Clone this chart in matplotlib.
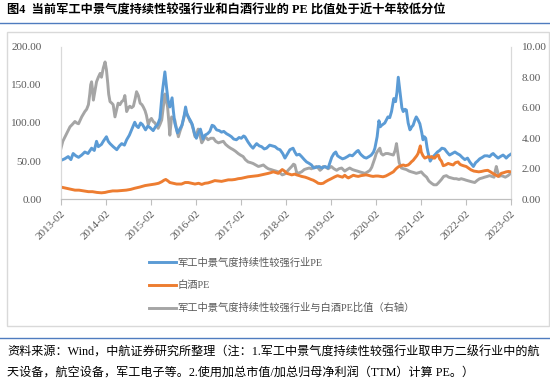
import matplotlib
matplotlib.use("Agg")
import matplotlib.pyplot as plt
from matplotlib.patches import Rectangle
from matplotlib.lines import Line2D

plt.rcParams['font.family'] = ['Liberation Serif', 'Noto Sans CJK SC', 'DejaVu Sans']

TITLE = "图4  当前军工中景气度持续性较强行业和白酒行业的 PE 比值处于近十年较低分位"
NOTE_1 = "资料来源：Wind，中航证券研究所整理（注：1.军工中景气度持续性较强行业取申万二级行业中的航"
NOTE_2 = "天设备，航空设备，军工电子等。2.使用加总市值/加总归母净利润（TTM）计算 PE。）"
LABEL_MIL = "军工中景气度持续性较强行业PE"
LABEL_LIQ = "白酒PE"
LABEL_RATIO = "军工中景气度持续性较强行业与白酒PE比值（右轴）"

# x ticks: one per February, 2013-02 .. 2023-02
TICK_LABELS = [f"{y}-02" for y in range(2013, 2024)]

# time = years since Feb 2013
mil_t = [0.00, 0.08, 0.16, 0.22, 0.27, 0.33, 0.39, 0.46, 0.53, 0.60, 0.68, 0.74, 0.79, 0.83, 0.90, 0.94,
         1.01, 1.05, 1.09, 1.16, 1.24, 1.30, 1.35, 1.41, 1.46, 1.52, 1.57, 1.64, 1.68, 1.72, 1.77, 1.81,
         1.88, 1.93, 1.98, 2.05, 2.10, 2.15, 2.20, 2.25, 2.31, 2.35, 2.38, 2.42, 2.47, 2.50, 2.53, 2.59,
         2.64, 2.69, 2.74, 2.77, 2.80, 2.83, 2.88, 2.92, 2.97, 3.01, 3.06, 3.10, 3.16, 3.20, 3.26, 3.31,
         3.36, 3.40, 3.46, 3.52, 3.57, 3.62, 3.68, 3.74, 3.79, 3.84, 3.90, 3.96, 4.01, 4.06, 4.09, 4.16,
         4.22, 4.27, 4.32, 4.35, 4.41, 4.46, 4.52, 4.57, 4.64, 4.70, 4.76, 4.82, 4.87, 4.93, 4.98, 5.04,
         5.09, 5.16, 5.20, 5.24, 5.30, 5.35, 5.41, 5.46, 5.52, 5.57, 5.62, 5.68, 5.74, 5.80, 5.87, 5.94,
         5.98, 6.02, 6.07, 6.11, 6.15, 6.20, 6.26, 6.31, 6.37, 6.42, 6.48, 6.53, 6.58, 6.61, 6.65, 6.68,
         6.74, 6.79, 6.85, 6.90, 6.95, 6.98, 7.03, 7.07, 7.10, 7.13, 7.20, 7.27, 7.31, 7.35, 7.40, 7.44,
         7.47, 7.50, 7.53, 7.55, 7.58, 7.61, 7.65, 7.68, 7.72, 7.76, 7.80, 7.83, 7.87, 7.90, 7.94, 7.98,
         8.02, 8.05, 8.08, 8.11, 8.14, 8.16, 8.21, 8.26, 8.31, 8.37, 8.42, 8.47, 8.53, 8.58, 8.64, 8.70,
         8.76, 8.81, 8.87, 8.92, 8.98, 9.04, 9.09, 9.13, 9.17, 9.22, 9.26, 9.31, 9.37, 9.42, 9.48, 9.53,
         9.58, 9.61, 9.66, 9.72, 9.77, 9.83, 9.87, 9.90, 9.95, 10.00]
mil_pe = [51, 53, 56, 52, 60, 57, 55, 58, 62, 60, 67, 64, 76, 69, 72, 76,
          82, 76, 73, 69, 65, 70, 73, 71, 78, 84, 91, 101, 96, 94, 100, 98,
          91, 96, 94, 90, 95, 98, 106, 139, 167, 145, 130, 121, 133, 115, 100, 87,
          92, 97, 110, 121, 112, 108, 103, 98, 86, 80, 88, 92, 79, 84, 86, 89,
          97, 96, 91, 90, 88, 89, 86, 84, 82, 79, 78, 81, 80, 83, 82, 75,
          70, 67, 71, 73, 70, 69, 66, 67, 71, 70, 69, 66, 65, 60, 54, 60,
          65, 67, 62, 58, 59, 56, 52, 49, 47, 45, 41, 42, 43, 41, 43, 41,
          48, 55, 60, 62, 57, 55, 53, 54, 56, 58, 57, 60, 63, 64, 60, 58,
          55, 54, 56, 58, 62, 67, 82, 103, 95, 97, 100, 108, 107, 115, 132, 128,
          140, 160, 145, 134, 120, 115, 118, 117, 100, 91, 95, 97, 104, 108, 104, 99,
          88, 78, 82, 80, 68, 62, 50, 55, 58, 62, 64, 67, 66, 62, 58, 60,
          62, 60, 58, 55, 52, 54, 49, 46, 43, 48, 50, 53, 55, 57, 57, 56,
          59, 60, 57, 54, 56, 58, 56, 54, 57, 59]

liq_t = [0.00, 0.08, 0.16, 0.25, 0.31, 0.40, 0.50, 0.61, 0.70, 0.80, 0.90, 0.98, 1.05, 1.15, 1.25, 1.35,
         1.45, 1.55, 1.64, 1.75, 1.87, 1.98, 2.09, 2.17, 2.24, 2.29, 2.33, 2.38, 2.42, 2.50, 2.57, 2.68,
         2.76, 2.83, 2.90, 2.98, 3.06, 3.13, 3.20, 3.27, 3.35, 3.42, 3.50, 3.57, 3.65, 3.72, 3.80, 3.87,
         3.94, 4.01, 4.09, 4.16, 4.23, 4.31, 4.38, 4.46, 4.53, 4.61, 4.67, 4.72, 4.78, 4.83, 4.88, 4.92,
         4.97, 5.02, 5.08, 5.13, 5.20, 5.24, 5.30, 5.35, 5.43, 5.50, 5.56, 5.61, 5.67, 5.72, 5.78, 5.83,
         5.88, 5.94, 6.01, 6.09, 6.15, 6.20, 6.26, 6.31, 6.36, 6.39, 6.45, 6.50, 6.56, 6.61, 6.67, 6.72,
         6.78, 6.83, 6.89, 6.94, 7.00, 7.05, 7.11, 7.16, 7.22, 7.27, 7.33, 7.39, 7.45, 7.50, 7.56, 7.61,
         7.66, 7.72, 7.76, 7.79, 7.83, 7.87, 7.91, 7.94, 7.97, 7.99, 8.01, 8.05, 8.09, 8.13, 8.16, 8.20,
         8.24, 8.28, 8.31, 8.35, 8.39, 8.42, 8.46, 8.50, 8.55, 8.61, 8.66, 8.72, 8.77, 8.83, 8.87, 8.90,
         8.95, 9.01, 9.06, 9.12, 9.18, 9.23, 9.29, 9.35, 9.42, 9.49, 9.55, 9.60, 9.66, 9.72, 9.76, 9.79,
         9.85, 9.90, 9.95, 10.00]
liq_pe = [16, 15, 14, 13, 12, 12, 11, 10, 10, 9, 8.5, 9, 10, 11, 11, 11.5,
          12, 13, 14.5, 16, 18, 19, 20, 21, 23, 25, 26, 24, 22, 21, 20, 20,
          22, 22, 21, 20, 21, 19.5, 21, 21.5, 23, 24.5, 24, 23.5, 24.5, 25.5, 25.5, 26,
          27, 27.5, 28.5, 29.5, 30, 30.5, 31, 32, 33, 34, 35, 36, 35, 34, 37, 39,
          37, 34, 33, 32, 33, 32, 31, 30, 29, 27.5, 26, 25, 23, 21, 20.5, 21,
          23, 25, 27, 29.5, 31, 30, 29, 31.5, 29, 28, 30, 31.5, 30.5, 30, 31, 31.5,
          32, 31.5, 30.5, 30, 30.5, 30.5, 30, 29.5, 30.5, 32, 34, 36, 40, 42.5, 44, 45,
          44, 45, 47, 49, 51, 54, 57, 60, 66, 70, 62, 57, 54, 55, 56, 55,
          56, 54, 54, 57, 58, 53, 50, 44, 45, 47, 46, 45, 48, 49, 46, 45,
          44, 43, 41, 38.5, 37, 36.5, 36, 36.5, 37.5, 38, 36, 34, 32, 30, 32, 34,
          35, 36, 36.5, 36]

ratio_t = [0.00, 0.04, 0.09, 0.14, 0.20, 0.25, 0.31, 0.35, 0.39, 0.43, 0.46, 0.50, 0.53, 0.57, 0.61, 0.64,
           0.66, 0.68, 0.70, 0.72, 0.75, 0.79, 0.83, 0.87, 0.90, 0.94, 0.98, 1.01, 1.04, 1.06, 1.09, 1.13,
           1.16, 1.20, 1.24, 1.27, 1.31, 1.35, 1.39, 1.42, 1.46, 1.50, 1.53, 1.57, 1.61, 1.65, 1.68, 1.72,
           1.76, 1.80, 1.83, 1.87, 1.90, 1.94, 1.98, 2.01, 2.05, 2.09, 2.13, 2.16, 2.20, 2.24, 2.28, 2.31,
           2.34, 2.37, 2.40, 2.42, 2.46, 2.50, 2.53, 2.57, 2.61, 2.65, 2.68, 2.72, 2.76, 2.80, 2.83, 2.87,
           2.90, 2.94, 2.98, 3.02, 3.05, 3.09, 3.13, 3.17, 3.20, 3.24, 3.27, 3.33, 3.39, 3.44, 3.50, 3.55,
           3.61, 3.66, 3.72, 3.77, 3.83, 3.88, 3.94, 3.99, 4.05, 4.10, 4.16, 4.22, 4.27, 4.33, 4.39, 4.45,
           4.50, 4.56, 4.61, 4.67, 4.72, 4.78, 4.83, 4.88, 4.92, 4.97, 5.02, 5.08, 5.13, 5.17, 5.20, 5.24,
           5.27, 5.31, 5.35, 5.41, 5.46, 5.52, 5.57, 5.63, 5.68, 5.72, 5.76, 5.80, 5.83, 5.89, 5.94, 6.01,
           6.07, 6.13, 6.18, 6.24, 6.31, 6.36, 6.42, 6.48, 6.53, 6.59, 6.64, 6.70, 6.76, 6.82, 6.87, 6.91,
           6.94, 6.98, 7.01, 7.05, 7.09, 7.12, 7.16, 7.22, 7.27, 7.33, 7.39, 7.43, 7.46, 7.49, 7.52, 7.57,
           7.62, 7.68, 7.74, 7.79, 7.85, 7.90, 7.96, 8.01, 8.07, 8.13, 8.18, 8.24, 8.29, 8.35, 8.40, 8.46,
           8.51, 8.57, 8.62, 8.68, 8.74, 8.79, 8.85, 8.90, 8.96, 9.01, 9.07, 9.13, 9.20, 9.26, 9.31, 9.37,
           9.42, 9.48, 9.53, 9.58, 9.63, 9.66, 9.68, 9.71, 9.74, 9.79, 9.84, 9.88, 9.94, 10.00]
ratio = [3.35, 3.8, 4.1, 4.4, 4.75, 4.9, 5.1, 5.0, 4.95, 5.2, 5.4, 5.6, 5.75, 5.9, 6.2, 6.9,
         7.5, 7.7, 7.2, 6.5, 7.0, 7.7, 8.0, 8.25, 8.0, 8.6, 9.0, 8.5, 7.6, 6.9, 6.4, 6.3,
         6.2, 5.4, 5.9, 6.3, 6.2, 6.4, 6.5, 6.8, 5.75, 6.0, 6.1, 6.0, 6.1, 6.6, 7.05, 6.8,
         6.3, 6.2, 6.05, 5.8, 5.5, 4.9, 5.2, 5.3, 5.1, 5.0, 4.8, 4.65, 4.9, 5.2, 6.2, 6.9,
         6.5, 6.05, 5.0, 4.2, 5.4, 5.3, 5.2, 4.6, 4.1, 4.5, 4.75, 5.2, 5.7, 5.6, 5.4, 5.1,
         5.0, 4.6, 4.1, 4.3, 4.6, 4.2, 3.7, 3.9, 4.1, 4.0, 3.9, 4.0, 4.0, 3.8, 3.7, 3.75,
         3.8, 3.6, 3.45, 3.35, 3.25, 3.15, 3.0, 2.9, 2.8, 2.6, 2.45, 2.4, 2.35, 2.25, 2.15, 2.2,
         2.25, 2.1, 2.0, 1.95, 1.9, 1.85, 1.8, 1.7, 1.6, 1.65, 1.8, 2.0, 2.15, 2.3, 2.25, 1.75,
         1.7, 1.75, 1.8, 1.95, 2.0, 2.05, 2.0, 2.1, 2.15, 2.05, 1.9, 2.0, 2.15, 2.1, 2.0, 2.15,
         2.0, 1.9, 2.0, 2.05, 1.85, 1.95, 2.05, 1.95, 1.9, 1.85, 1.8, 1.75, 1.7, 1.8, 1.9, 2.1,
         2.35, 2.7, 3.0, 3.2, 3.35, 3.0, 2.9, 3.0, 3.0, 2.95, 2.9, 3.2, 3.65, 3.0, 2.4, 2.05,
         2.0, 1.95, 1.85, 1.8, 1.75, 1.7, 1.75, 1.8, 1.6, 1.45, 1.2, 1.05, 0.95, 0.95, 1.1, 1.3,
         1.5, 1.55, 1.45, 1.4, 1.35, 1.35, 1.3, 1.35, 1.3, 1.25, 1.2, 1.15, 1.1, 1.25, 1.35, 1.4,
         1.45, 1.5, 1.55, 1.5, 1.45, 1.9, 2.15, 1.8, 1.5, 1.55, 1.5, 1.45, 1.55, 1.7]

C_MIL = "#5B9BD5"
C_LIQ = "#ED7D31"
C_RATIO = "#A5A5A5"
C_TEXT = "#595959"
C_RULE = "#4F7CBF"

W, H = 550, 380
fig = plt.figure(figsize=(W / 100, H / 100), dpi=100)

# title + rules
fig.text(7 / W, 1 - 11 / H, TITLE, fontsize=8.8, fontweight="bold", ha="left", va="center")
fig.add_artist(Line2D([0, 1], [1 - 23 / H] * 2, color=C_RULE, lw=1.0))
fig.add_artist(Rectangle((6.5 / W, 1 - 326 / H), (549 - 6.5) / W, (326 - 32) / H,
                         fill=False, edgecolor="#D9D9D9", lw=1.0))
fig.add_artist(Line2D([0, 1], [1 - 337.5 / H] * 2, color=C_RULE, lw=1.0))
fig.text(7 / W, 1 - 352 / H, NOTE_1, fontsize=8.7, ha="left", va="center")
fig.text(7 / W, 1 - 373 / H, NOTE_2, fontsize=8.7, ha="left", va="center")

ax = fig.add_axes([61 / W, 1 - 199.3 / H, (510.7 - 61) / W, (199.3 - 46.7) / H])
ax2 = ax.twinx()

l1, = ax.plot(mil_t, mil_pe, color=C_MIL, lw=2.1)
l2, = ax.plot(liq_t, liq_pe, color=C_LIQ, lw=2.1)
l3, = ax2.plot(ratio_t, ratio, color=C_RATIO, lw=2.1)
ax.set_zorder(ax2.get_zorder() + 1)
ax.patch.set_visible(False)

ax.set_xlim(0, 10)
ax.set_ylim(0, 200)
ax2.set_ylim(0, 10)
ax.set_yticks(range(0, 201, 50))
ax.set_yticklabels([f"{v:.2f}" for v in range(0, 201, 50)])
ax2.set_yticks(range(0, 11, 2))
ax2.set_yticklabels([f"{v:.2f}" for v in range(0, 11, 2)])
ax.set_xticks(range(0, 11))
ax.set_xticklabels(TICK_LABELS, rotation=45, ha="right", rotation_mode="anchor")

for a in (ax, ax2):
    a.spines["top"].set_visible(False)
    a.spines["left"].set_color("#D9D9D9")
    a.spines["right"].set_color("#D9D9D9")
    a.spines["bottom"].set_color("#BFBFBF")
    a.tick_params(axis="y", length=0, labelsize=8, labelcolor=C_TEXT)
ax.tick_params(axis="y", pad=14)
ax2.tick_params(axis="y", pad=8)
ax.tick_params(axis="x", length=4, color="#BFBFBF", labelsize=8, labelcolor=C_TEXT, pad=3)

fig.legend([l1, l2, l3], [LABEL_MIL, LABEL_LIQ, LABEL_RATIO],
           loc="upper left", bbox_to_anchor=(149 / W, 1 - 257.5 / H),
           frameon=False, fontsize=7.4, labelcolor=C_TEXT,
           handlelength=2.6, handletextpad=0.15, labelspacing=1.25,
           borderpad=0, borderaxespad=0)

fig.savefig("out.png", dpi=100)
